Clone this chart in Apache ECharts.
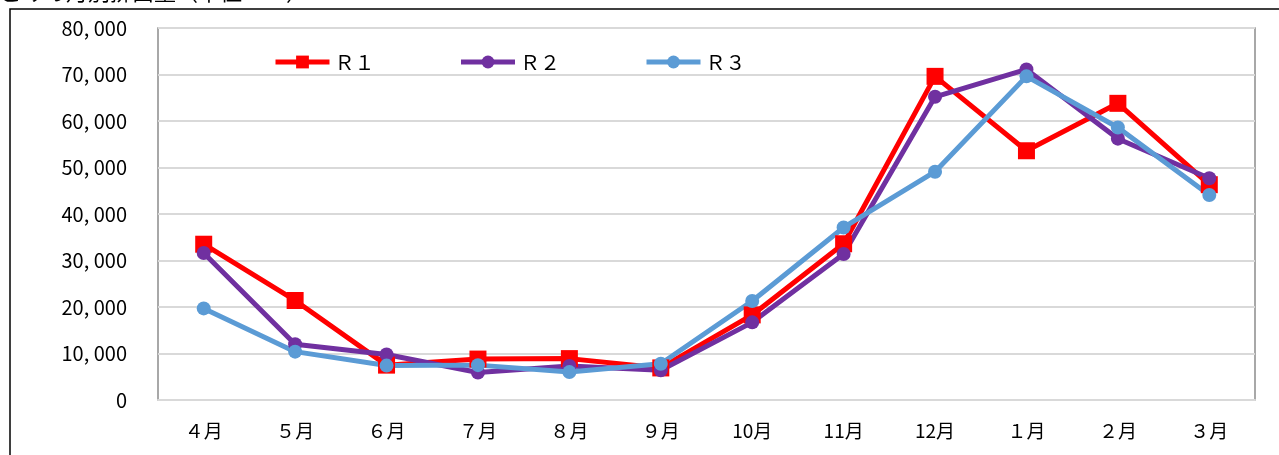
<!DOCTYPE html>
<html>
<head>
<meta charset="utf-8">
<script src="https://cdn.jsdelivr.net/npm/echarts@6/dist/echarts.min.js"></script>
<style>
  html, body { margin: 0; padding: 0; background: #fff; }
  #main { width: 1279px; height: 455px; }
</style>
</head>
<body>
<div id="main"></div>
<script>
// 月別データ
const months = ["４月", "５月", "６月", "７月", "８月", "９月", "10月", "11月", "12月", "１月", "２月", "３月"];
const r1 = [33500, 21400, 7500, 8800, 8900, 6900, 18300, 33600, 69600, 53600, 63800, 46300];
const r2 = [31600, 12000, 9800, 5900, 7300, 6400, 16700, 31400, 65200, 71100, 56200, 47700];
const r3 = [19700, 10400, 7400, 7500, 6000, 7800, 21300, 37100, 49100, 69600, 58600, 44100];
const yTicks = { min: 0, max: 80000, interval: 10000 };

const myChart = echarts.init(document.getElementById("main"));

const font = "'Noto Sans CJK JP', 'Noto Sans', sans-serif";

const option = {
  animation: false,
  backgroundColor: "#fff",
  graphic: [
    {
      type: "text",
      left: 0,
      top: -19,
      style: {
        text: "ごみの月別排出量（単位：ｔ）",
        font: "22px " + font,
        fill: "#000"
      }
    },
    {
      type: "rect",
      shape: { x: 10, y: 9, width: 1320, height: 500 },
      style: { fill: "none", stroke: "#000", lineWidth: 1.5 },
      z: -1
    }
  ],
  legend: {
    left: 268,
    top: 47,
    itemWidth: 54,
    itemHeight: 16,
    itemGap: 84,
    lineStyle: { width: 5 },
    textStyle: { fontFamily: font, fontSize: 20, color: "#000" },
    data: ["Ｒ１", "Ｒ２", "Ｒ３"]
  },
  grid: {
    left: 158,
    right: 24,
    top: 28,
    bottom: 55,
    show: true,
    borderColor: "#8c8c8c",
    borderWidth: 1.5
  },
  xAxis: {
    type: "category",
    data: months,
    axisLine: { lineStyle: { color: "#d9d9d9", width: 2 } },
    axisTick: { show: false },
    axisLabel: {
      fontFamily: font,
      fontSize: 19,
      color: "#000",
      margin: 21
    }
  },
  yAxis: {
    type: "value",
    min: yTicks.min,
    max: yTicks.max,
    interval: yTicks.interval,
    axisLine: { show: false },
    axisTick: { show: false },
    splitLine: { lineStyle: { color: "#d9d9d9", width: 2 } },
    axisLabel: {
      fontFamily: font,
      fontSize: 20,
      color: "#000",
      margin: 31,
      formatter: function (v) {
        return v === 0 ? "0" : echarts.format.addCommas(v).replace(",", ", ");
      }
    }
  },
  series: [
    {
      name: "Ｒ１",
      type: "line",
      data: r1,
      symbol: "rect",
      symbolSize: 17,
      color: "#ff0000",
      lineStyle: { width: 5 }
    },
    {
      name: "Ｒ２",
      type: "line",
      data: r2,
      symbol: "circle",
      symbolSize: 14,
      color: "#7030a0",
      lineStyle: { width: 5 }
    },
    {
      name: "Ｒ３",
      type: "line",
      data: r3,
      symbol: "circle",
      symbolSize: 14,
      color: "#5b9bd5",
      lineStyle: { width: 5 }
    }
  ]
};
// 表示
myChart.setOption(option);
</script>
</body>
</html>
